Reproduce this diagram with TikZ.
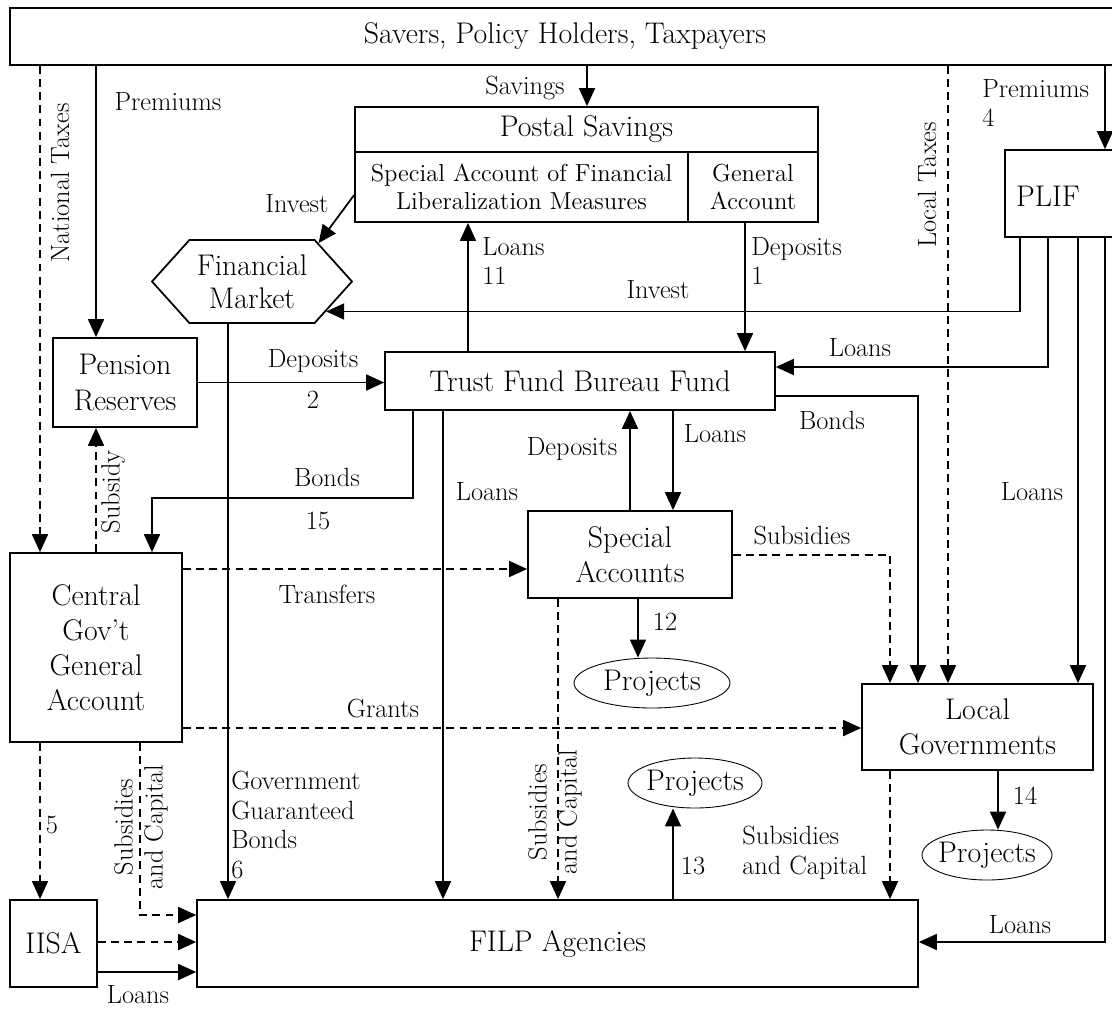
\documentclass[tikz,border=0pt]{standalone}
\usetikzlibrary{arrows.meta,shapes.geometric,shapes.symbols}
\tikzstyle{box}=[draw, line width=1pt, rectangle, inner sep=2pt, align=center, font=\fontsize{17pt}{20pt}\selectfont]
\tikzstyle{subbox}=[box, font=\fontsize{14pt}{16pt}\selectfont]
\tikzstyle{proj}=[draw, ellipse, line width=0.5pt, inner xsep=-0.15cm, inner ysep=0.05cm, font=\fontsize{17pt}{20pt}\selectfont]
\tikzstyle{lbl}=[inner sep=0pt, font=\fontsize{15pt}{17pt}\selectfont]
\tikzstyle{link}=[line width=1pt, -{Triangle[length=0.36cm,width=0.32cm]}]
\tikzstyle{dlink}=[link, dash pattern=on 4.5pt off 3pt]

\begin{document}
\begin{tikzpicture}[x=0.02cm, y=-0.02cm]
	\useasboundingbox (0,0) rectangle (1112,1009);

	%%% Boxes
	\node[box, minimum width=22.2cm, minimum height=1.14cm]  (savers)   at (565,36.5)   {Savers, Policy Holders, Taxpayers};
	\node[box, minimum width=9.26cm, minimum height=0.9cm]   (postal)   at (586.5,129.5) {Postal Savings};
	\node[subbox, minimum width=6.66cm, minimum height=1.4cm] (specacct) at (521.5,187)  {Special Account of Financial\\Liberalization Measures};
	\node[subbox, minimum width=2.6cm, minimum height=1.4cm]  (genacct)  at (753,187)    {General\\Account};
	\node[draw, line width=1pt, signal, signal to=east and west, signal pointer angle=96,
	      minimum width=4cm, minimum height=1.66cm, inner sep=0pt, align=center,
	      font=\fontsize{17pt}{19pt}\selectfont]             (finmkt)   at (252,281.5)  {Financial\\Market};
	\node[box, minimum width=2.6cm, minimum height=1.74cm]   (plif)     at (1070,193.5) {};
	\node[lbl, font=\fontsize{17pt}{20pt}\selectfont]        (plifT)    at (1048,196)   {PLIF};
	\node[box, minimum width=2.88cm, minimum height=1.78cm]  (pension)  at (125,382.5)  {Pension\\Reserves};
	\node[box, minimum width=7.8cm, minimum height=1.16cm]   (trust)    at (580,381)    {Trust Fund Bureau Fund};
	\node[box, minimum width=4.08cm, minimum height=1.74cm]  (special)  at (630,554.5)  {Special\\Accounts};
	\node[box, minimum width=3.44cm, minimum height=3.78cm]  (central)  at (96,647.5)   {Central\\Gov't\\General\\Account};
	\node[box, minimum width=4.62cm, minimum height=1.72cm]  (localgov) at (977.5,727)  {Local\\Governments};
	\node[box, minimum width=1.74cm, minimum height=1.74cm]  (iisa)     at (53.5,943.5) {IISA};
	\node[box, minimum width=14.42cm, minimum height=1.74cm] (filp)     at (557.5,943.5) {FILP Agencies};
	\node[proj, minimum width=3.12cm, minimum height=1cm]    (proj1)    at (652,683)    {Projects};
	\node[proj, minimum width=2.68cm, minimum height=1cm]    (proj2)    at (695,783)    {Projects};
	\node[proj, minimum width=2.6cm, minimum height=1cm]     (proj3)    at (987,855)    {Projects};

	%%% From savers
	\draw[dlink] (savers.south -| 40,0)   -- (central.north -| 40,0);
	\draw[link]  (savers.south -| 96,0)   -- (pension.north -| 96,0);
	\draw[link]  (savers.south -| 587,0)  -- (postal.north -| 587,0);
	\draw[dlink] (savers.south -| 948,0)  -- (localgov.north -| 948,0);
	\draw[link]  (savers.south -| 1105,0) -- (plif.north -| 1105,0);

	%%% Postal savings
	\draw[link] (specacct.west |- 0,195) -- (finmkt.30);
	\draw[link] (genacct.south -| 745,0) -- (trust.north -| 745,0);
	\draw[link] (trust.north -| 468,0) -- (specacct.south -| 468,0);

	%%% PLIF
	\draw[link] (plif.south -| 1020,0) |- (finmkt.-22);
	\draw[link] (plif.south -| 1048,0) |- (trust.east |- 0,367);
	\draw[link] (plif.south -| 1078,0) -- (localgov.north -| 1078,0);
	\draw[link] (plif.south -| 1105,0) |- (filp.east |- 0,942);

	%%% Trust fund
	\draw[link] (pension.east) -- (pension.east -| trust.west);
	\draw[link] (trust.east |- 0,396) -| (localgov.north -| 918,0);
	\draw[link] (trust.south -| 413,0) -- ++(0,87) -| (central.north -| 152,0);
	\draw[link] (trust.south -| 443,0) -- (filp.north -| 443,0);
	\draw[link] (special.north -| 630,0) -- (trust.south -| 630,0);
	\draw[link] (trust.south -| 673,0) -- (special.north -| 673,0);

	%%% Special accounts
	\draw[dlink] (special.east |- 0,555) -| (localgov.north -| 890,0);
	\draw[link]  (special.south -| 638,0) -- (proj1.north -| 638,0);
	\draw[dlink] (special.south -| 558,0) -- (filp.north -| 558,0);

	%%% Central government
	\draw[dlink] (central.north -| 96,0)  -- (pension.south -| 96,0);
	\draw[dlink] (central.east |- 0,569)  -- (special.west |- 0,569);
	\draw[dlink] (central.east |- 0,728)  -- (localgov.west |- 0,728);
	\draw[dlink] (central.south -| 40,0)  -- (iisa.north -| 40,0);
	\draw[dlink] (central.south -| 140,0) |- (filp.west |- 0,915);

	%%% Local governments
	\draw[link]  (localgov.south -| 998,0) -- (proj3.north -| 998,0);
	\draw[dlink] (localgov.south -| 890,0) -- (filp.north -| 890,0);

	%%% FILP agencies
	\draw[link]  (finmkt.south -| 228,0) -- (filp.north -| 228,0);
	\draw[link]  (filp.north -| 673,0) -- (proj2.south -| 673,0);
	\draw[dlink] (iisa.east |- 0,942) -- (filp.west |- 0,942);
	\draw[link]  (iisa.east |- 0,972) -- (filp.west |- 0,972);

	%%% Labels
	\node[lbl, rotate=90]             (lNatTax)   at (60,183)   {National Taxes};
	\node[lbl]                        (lPrem)     at (168,102)  {Premiums};
	\node[lbl]                        (lSav)      at (525,88)   {Savings};
	\node[lbl, rotate=90]             (lLocTax)   at (927,185)  {Local Taxes};
	\node[lbl, align=left, anchor=west] (lPrem4)  at (982,103)  {Premiums\\4};
	\node[lbl]                        (lInv1)     at (297,204)  {Invest};
	\node[lbl, align=left, anchor=west] (lLoans11) at (482,261) {Loans\\11};
	\node[lbl, align=left, anchor=west] (lDep1)   at (751,261)  {Deposits\\1};
	\node[lbl]                        (lInv2)     at (658,290)  {Invest};
	\node[lbl]                        (lDep2)     at (313,361)  {Deposits};
	\node[lbl]                        (l2)        at (313,400)  {2};
	\node[lbl]                        (lLoansT)   at (860,348)  {Loans};
	\node[lbl]                        (lBondsL)   at (832,420)  {Bonds};
	\node[lbl]                        (lBonds15)  at (327,477)  {Bonds};
	\node[lbl]                        (l15)       at (318,521)  {15};
	\node[lbl]                        (lLoansF)   at (487,492)  {Loans};
	\node[lbl]                        (lDepS)     at (572,449)  {Deposits};
	\node[lbl]                        (lLoansS)   at (715,434)  {Loans};
	\node[lbl]                        (lLoansP)   at (1032,492) {Loans};
	\node[lbl]                        (lSubs)     at (802,535)  {Subsidies};
	\node[lbl]                        (lTrans)    at (327,594)  {Transfers};
	\node[lbl]                        (l12)       at (665,622)  {12};
	\node[lbl]                        (lGrants)   at (383,708)  {Grants};
	\node[lbl, rotate=90]             (lSubsidy)  at (113,492)  {Subsidy};
	\node[lbl, align=left, anchor=west] (lGov)    at (231,825)  {Government\\Guaranteed\\Bonds\\6};
	\node[lbl, rotate=90, align=center] (lSubCapC) at (141,827) {Subsidies\\and Capital};
	\node[lbl, rotate=90, align=center] (lSubCapS) at (555,812) {Subsidies\\and Capital};
	\node[lbl, align=left, anchor=west] (lSubCapL) at (742,853) {Subsidies\\and Capital};
	\node[lbl]                        (l14)       at (1025,796) {14};
	\node[lbl]                        (l13)       at (693,866)  {13};
	\node[lbl]                        (l5)        at (52,825)   {5};
	\node[lbl]                        (lLoansI)   at (138,995)  {Loans};
	\node[lbl]                        (lLoansFR)  at (1020,925) {Loans};
\end{tikzpicture}
\end{document}
